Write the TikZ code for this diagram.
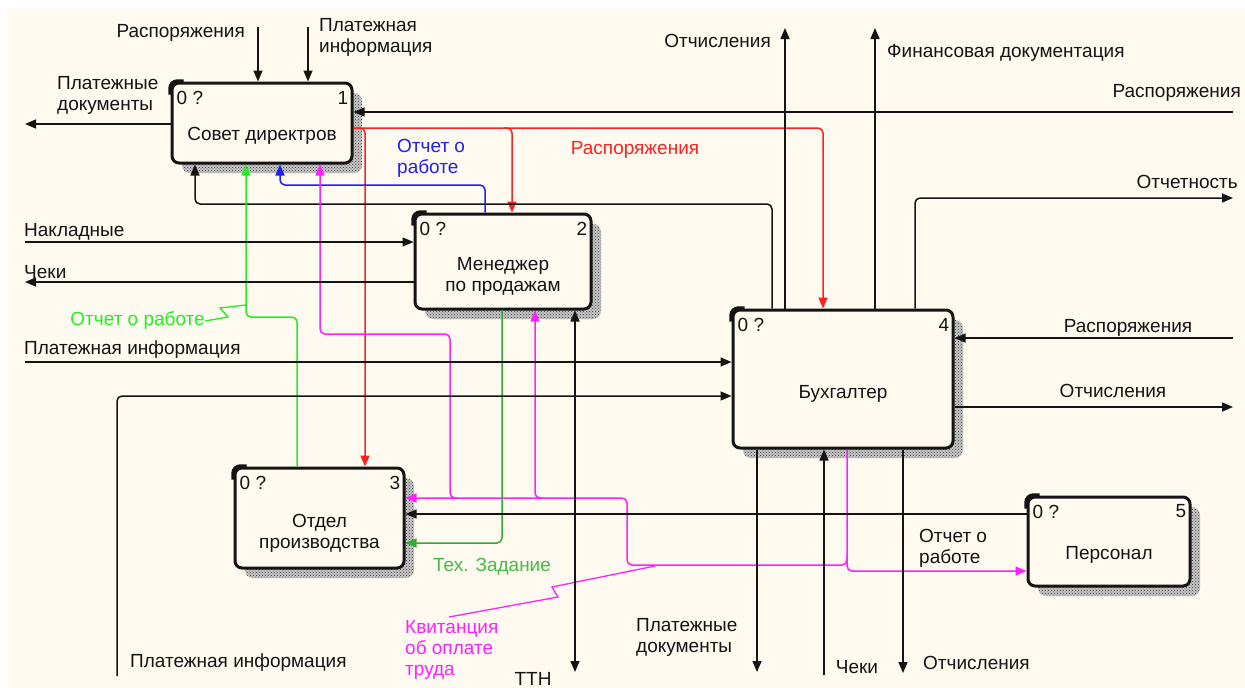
\documentclass[tikz,border=0pt]{standalone}
\usepackage{fontspec}
\setmainfont{Liberation Sans}
\usetikzlibrary{arrows.meta,calc,patterns}
\definecolor{paper}{HTML}{FEFAF0}
\definecolor{ink}{HTML}{141414}
\definecolor{lgreen}{HTML}{22EE22}
\definecolor{dgreen}{HTML}{33AA33}
\definecolor{tgreen}{HTML}{44BB44}
\definecolor{blu}{HTML}{2020F0}
\definecolor{rd}{HTML}{FF2020}
\definecolor{mag}{HTML}{FF20FF}

% activity box: name, centre x, centre y, width, height, number
\newcommand\actbox[6]{%
  \fill[black!22, rounded corners=8pt]
    (#2-#4/2+10,#3-#5/2+10) rectangle (#2+#4/2+10,#3+#5/2+10);
  \fill[pattern=crosshatch dots, pattern color=black!80, rounded corners=8pt]
    (#2-#4/2+10,#3-#5/2+10) rectangle (#2+#4/2+10,#3+#5/2+10);
  \node[actbox, minimum width=#4pt, minimum height=#5pt] (#1) at (#2,#3) {};
  \draw[ink, line width=4.5pt, rounded corners=7pt]
    ($(#1.north west)+(0,13)$) -- (#1.north west) -- ($(#1.north west)+(13,0)$);
  \node[anchor=west] (#1q) at ($(#1.north west)+(6,16)$) {0 ?};
  \node[anchor=east] (#1n) at ($(#1.north east)+(-5,16)$) {#6};
}

\begin{document}
\begin{tikzpicture}[x=1pt,y=-1pt,
  every node/.style={font=\fontsize{19}{21}\selectfont, text=ink, inner sep=0pt},
  actbox/.style={draw=ink, line width=3pt, fill=paper, rounded corners=7pt},
  line/.style={draw=ink, line width=1.5pt, rounded corners=5pt},
  arr/.style={line, -{Triangle[length=11pt,width=9pt]}},
  twoway/.style={line, {Triangle[length=11pt,width=9pt]}-{Triangle[length=11pt,width=9pt]}},
  carr/.style={arr, draw=#1},
  leader/.style={draw=#1, line width=1.3pt}
]
\useasboundingbox (0,0) rectangle (1245,688);
\fill[white] (0,0) rectangle (1245,688);
\fill[paper] (8,9) rectangle (1245,688);

% activities
\actbox{b1}{262}{123}{180}{80}{1}
\actbox{b2}{503}{261.5}{176}{95}{2}
\actbox{b3}{319.5}{518}{169}{100}{3}
\actbox{b4}{843}{379}{220}{138}{4}
\actbox{b5}{1109}{541.5}{162}{89}{5}

\node (t1) at ($(b1)+(0,13)$) {Совет директров};
\node[align=center] (t2) at ($(b2)+(0,15)$) {Менеджер\\по продажам};
\node[align=center] (t3) at ($(b3)+(0,15)$) {Отдел\\производства};
\node (t4) at ($(b4)+(0,15)$) {Бухгалтер};
\node (t5) at ($(b5)+(0,13)$) {Персонал};

% --- Совет директров: external arrows
\coordinate (e1) at (258,27);
\draw[arr] (e1) -- (e1 |- b1.north);
\node[anchor=east] (l1) at (245,33) {Распоряжения};
\coordinate (e2) at (308,27);
\draw[arr] (e2) -- (e2 |- b1.north);
\node[anchor=west, align=left] (l2) at (319,37) {Платежная\\информация};
\coordinate (e3) at (25,124);
\draw[arr] (e3 -| b1.west) -- (e3);
\node[anchor=west, align=left] (l3) at (57,95) {Платежные\\документы};
\coordinate (e4) at (1233,112);
\draw[arr] (e4) -- (e4 -| b1.east);
\node[anchor=east] (l4) at (1241,93) {Распоряжения};

% --- orders (red)
\coordinate (h128) at (0,128);
\coordinate (r1) at (823,128);
\draw[carr=rd] (b1.east |- h128) -- (r1) -- (r1 |- b4.north);
\coordinate (r2) at (512,128);
\coordinate (r2s) at (504,128);
\draw[carr=rd] (r2s) -- (r2) -- (r2 |- b2.north);
\coordinate (r3) at (365,128);
\coordinate (r3s) at (357,128);
\draw[carr=rd] (r3s) -- (r3) -- (r3 |- b3.north);
\node[text=rd] (l5) at (635,150) {Распоряжения};

% --- feedback from Бухгалтер to Совет директров
\coordinate (k1) at (772,204);
\coordinate (k2) at (195,204);
\draw[arr] (k1 |- b4.north) -- (k1) -- (k2) -- (k2 |- b1.south);

% --- work report (green)
\coordinate (g1) at (297,317);
\coordinate (g2) at (246,317);
\draw[carr=lgreen] (g1 |- b3.north) -- (g1) -- (g2) -- (g2 |- b1.south);
\node[anchor=east, text=lgreen] (l6) at (205,321) {Отчет о работе};
\coordinate (s1) at (228,317);
\coordinate (s2) at (220,308);
\coordinate (s3) at (246,305);
\draw[leader=lgreen] (l6.east) -- (s1) -- (s2) -- (s3);

% --- work report (blue)
\coordinate (u1) at (485,185);
\coordinate (u2) at (280,185);
\draw[carr=blu] (u1 |- b2.north) -- (u1) -- (u2) -- (u2 |- b1.south);
\node[anchor=west, align=left, text=blu] (l7) at (397,158) {Отчет о\\работе};

% --- pay receipts (magenta)
\coordinate (m1) at (847,565);
\coordinate (m2) at (627,565);
\coordinate (m3) at (627,498);
\draw[carr=mag] (m1 |- b4.south) -- (m1) -- (m2) -- (m3) -- (m3 -| b3.east);
\coordinate (m5) at (847,555);
\coordinate (m4) at (847,571);
\draw[carr=mag] (m5) -- (m4) -- (m4 -| b5.west);
\coordinate (m6s) at (458,498);
\coordinate (m6) at (450,498);
\coordinate (m7) at (450,334);
\coordinate (m8) at (320,334);
\draw[carr=mag] (m6s) -- (m6) -- (m7) -- (m8) -- (m8 |- b1.south);
\coordinate (m9s) at (543,498);
\coordinate (m9) at (535,498);
\draw[carr=mag] (m9s) -- (m9) -- (m9 |- b2.south);
\node[anchor=west, align=left, text=mag] (l8) at (405,650) {Квитанция\\об оплате\\труда};
\coordinate (q0) at (449,617);
\coordinate (q1) at (558,597);
\coordinate (q2) at (552,587);
\coordinate (q3) at (655,566);
\draw[leader=mag] (q0) -- (q1) -- (q2) -- (q3);

% --- Менеджер по продажам: external arrows
\coordinate (e5) at (25,242);
\draw[arr] (e5) -- (e5 -| b2.west);
\node[anchor=west] (l9) at (24,232) {Накладные};
\coordinate (e6) at (25,282);
\draw[arr] (e6 -| b2.west) -- (e6);
\node[anchor=west] (l10) at (24,272) {Чеки};

% --- technical task (green)
\coordinate (d1) at (502,543);
\draw[carr=dgreen] (d1 |- b2.south) -- (d1) -- (d1 -| b3.east);
\node[text=tgreen] (l11) at (492,567) {Тех. Задание};

% --- waybill
\coordinate (e7) at (575,672);
\draw[twoway] (e7) -- (e7 |- b2.south);
\node (l12) at (533,679) {ТТН};

% --- Бухгалтер: external arrows
\coordinate (e8) at (25,362);
\draw[arr] (e8) -- (e8 -| b4.west);
\node[anchor=west] (l13) at (24,350) {Платежная информация};
\coordinate (e9) at (117,676);
\coordinate (e10) at (117,396);
\draw[arr] (e9) -- (e10) -- (e10 -| b4.west);
\node[anchor=west] (l14) at (130,663) {Платежная информация};
\coordinate (e11) at (785,28);
\draw[arr] (e11 |- b4.north) -- (e11);
\node[anchor=east] (l15) at (771,41) {Отчисления};
\coordinate (e12) at (875,28);
\draw[arr] (e12 |- b4.north) -- (e12);
\node[anchor=west] (l16) at (887,53) {Финансовая документация};
\coordinate (e13) at (915,198);
\coordinate (e14) at (1233,198);
\draw[arr] (e13 |- b4.north) -- (e13) -- (e14);
\node[anchor=east] (l17) at (1238,182) {Отчетность};
\coordinate (e15) at (1233,338);
\draw[arr] (e15) -- (e15 -| b4.east);
\node (l18) at (1128,328) {Распоряжения};
\coordinate (e16) at (1233,407);
\draw[arr] (e16 -| b4.east) -- (e16);
\node (l19) at (1113,391) {Отчисления};
\coordinate (e17) at (757,672);
\draw[arr] (e17 |- b4.south) -- (e17);
\node[anchor=west, align=left] (l20) at (636,637) {Платежные\\документы};
\coordinate (e18) at (824,675);
\draw[arr] (e18) -- (e18 |- b4.south);
\node (l21) at (857,667) {Чеки};
\coordinate (e19) at (903,673);
\draw[arr] (e19 |- b4.south) -- (e19);
\node[anchor=west] (l22) at (923,663) {Отчисления};

% --- Персонал to Отдел производства
\coordinate (h514) at (0,514);
\draw[arr] (b5.west |- h514) -- (b3.east |- h514);
\node[anchor=west, align=left] (l23) at (919,548) {Отчет о\\работе};
\end{tikzpicture}
\end{document}
